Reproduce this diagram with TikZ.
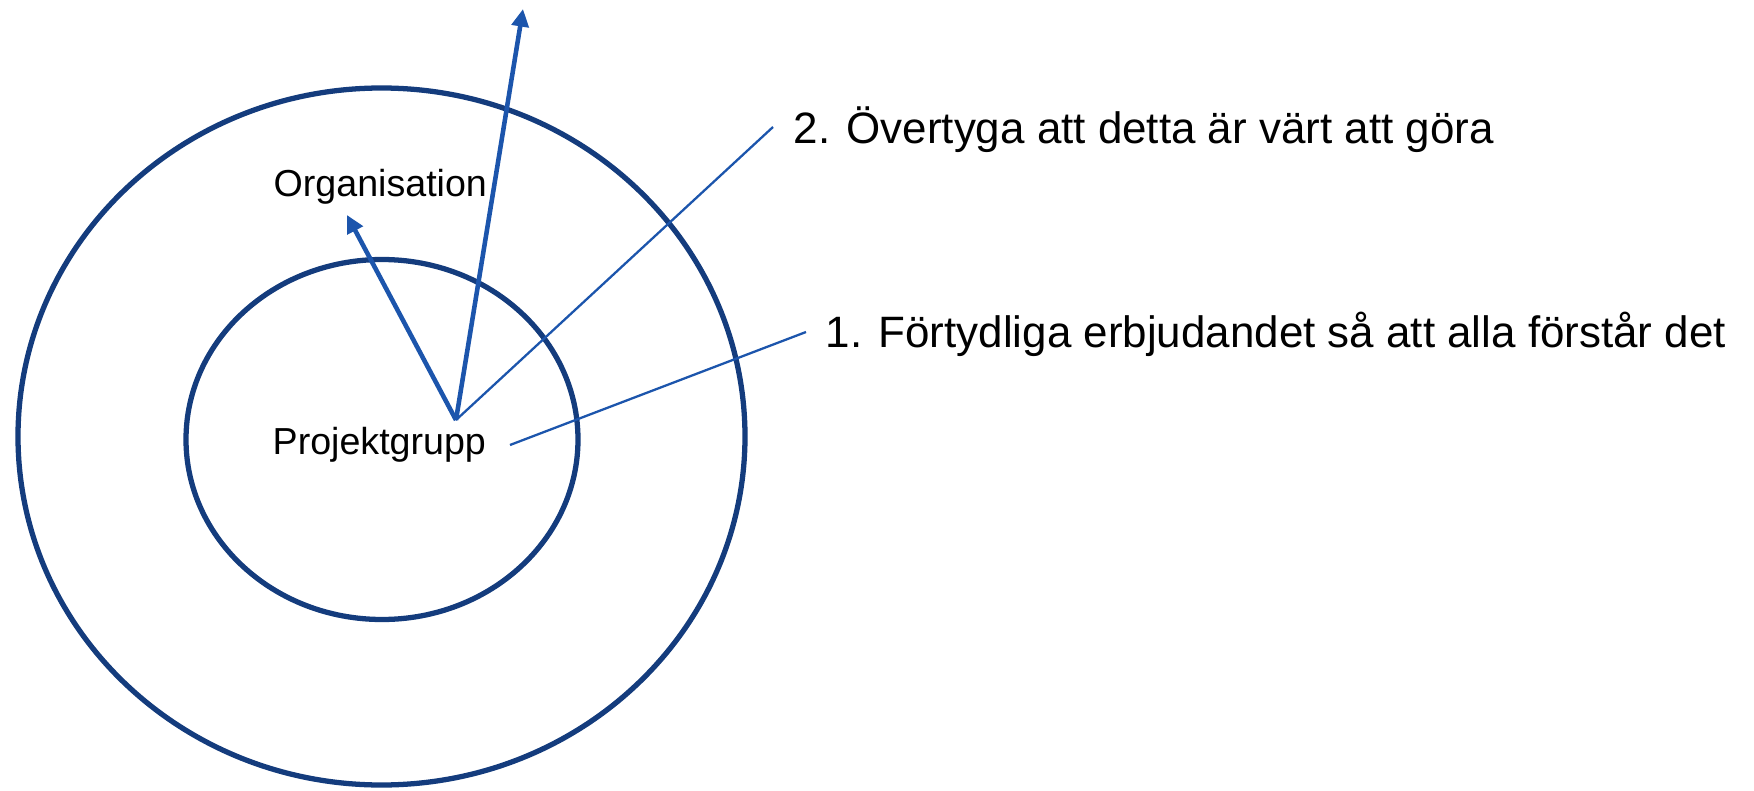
\documentclass[tikz,border=0pt]{standalone}
\usepackage{fontspec}
\setmainfont{Liberation Sans}
\usetikzlibrary{arrows.meta}
\definecolor{ringblue}{RGB}{20,60,125}
\definecolor{arrowblue}{RGB}{28,85,172}
\tikzset{
  ring/.style={draw=ringblue, line width=1.5pt},
  bigarrow/.style={draw=arrowblue, line width=1.3pt, -{Triangle[length=5pt,width=4.8pt]}},
  leader/.style={draw=arrowblue, line width=0.65pt},
  circlelabel/.style={inner sep=0pt, anchor=base west, font=\fontsize{10.7}{12}\selectfont},
  steplabel/.style={inner sep=0pt, anchor=base west, font=\fontsize{12.5}{15}\selectfont},
}
\begin{document}
\begin{tikzpicture}
	\useasboundingbox (0,0) rectangle (17.54,7.90);
	
	% Rings
	\draw[ring] (3.815,3.535) ellipse (3.635 and 3.485);
	\draw[ring] (3.82,3.505) ellipse (1.96 and 1.80);
	
	% Labels
	\node[circlelabel] (org) at (2.73,5.94) {Organisation};
	\node[circlelabel] (proj) at (2.72,3.36) {Projektgrupp};
	\node[steplabel] (step2) at (7.93,6.47) {2. Övertyga att detta är värt att göra};
	\node[steplabel] (step1) at (8.25,4.43) {1. Förtydliga erbjudandet så att alla förstår det};
	
	% Arrows out of the group
	\coordinate (origin) at (4.56,3.70);
	\coordinate (orgtip) at (3.47,5.75);
	\coordinate (toptip) at (5.23,7.81);
	\draw[bigarrow] (origin) -- (orgtip);
	\draw[bigarrow] (origin) -- (toptip);
	
	% Leader lines to the steps
	\coordinate (end2) at (7.73,6.63);
	\coordinate (start1) at (5.10,3.45);
	\coordinate (end1) at (8.06,4.58);
	\draw[leader] (origin) -- (end2);
	\draw[leader] (start1) -- (end1);
\end{tikzpicture}
\end{document}
